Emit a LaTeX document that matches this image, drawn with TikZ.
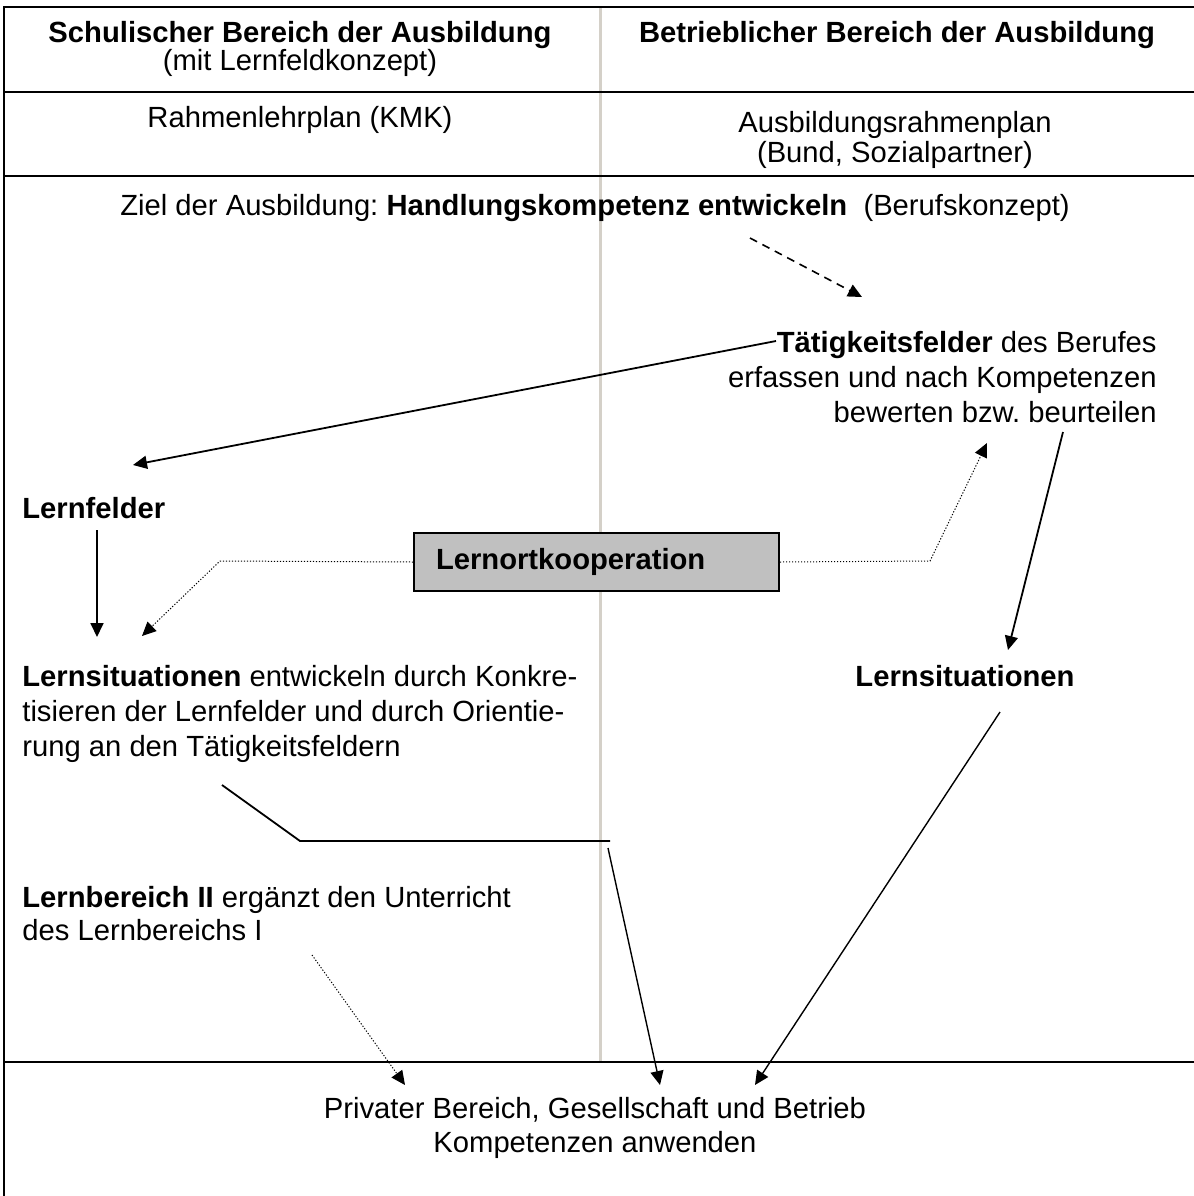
\documentclass[tikz,border=0pt]{standalone}
\usepackage{fontspec}
\setmainfont{Liberation Sans}
\usetikzlibrary{arrows.meta}
\definecolor{boxgray}{HTML}{C0C0C0}
\definecolor{divgray}{HTML}{D4D0C8}
\frenchspacing
\begin{document}
\begin{tikzpicture}[x=0.5pt,y=-0.5pt,
  frame/.style={line width=1.2pt},
  divider/.style={line width=1.5pt, draw=divgray},
  txt/.style={inner sep=0pt, font=\fontsize{14.6}{17.5}\selectfont},
  hdr/.style={inner sep=0pt, font=\fontsize{14.6}{14}\selectfont},
  tip/.style={-{Triangle[length=7pt,width=6.5pt]}},
  solidarrow/.style={tip, line width=0.9pt},
  thinarrow/.style={tip, line width=0.7pt},
  dottedarrow/.style={tip, line width=0.5pt, dash pattern=on 0.6pt off 0.9pt},
  dashedarrow/.style={tip, line width=0.8pt, dash pattern=on 4pt off 3pt},
  kooperation/.style={draw, line width=1pt, fill=boxgray, inner sep=0pt,
    minimum width=182.5pt, minimum height=29pt, text width=160.5pt,
    align=left, font=\fontsize{14.6}{17.5}\selectfont\bfseries}
]
\useasboundingbox (0,0) rectangle (1194,1196);

% table frame
\draw[divider] (600,7) -- (600,1062);
\draw[frame] (1194,7) -- (4,7) -- (4,1196);
\draw[frame] (4,92) -- (1194,92);
\draw[frame] (4,176) -- (1194,176);
\draw[frame] (4,1062) -- (1194,1062);

% header texts
\node[hdr, anchor=north, align=center] (hl) at (300,21)
  {\textbf{Schulischer Bereich der Ausbildung}\\(mit Lernfeldkonzept)};
\node[hdr, anchor=north, align=center] (hr) at (897,21)
  {\textbf{Betrieblicher Bereich der Ausbildung}};
\node[hdr, anchor=north, align=center] (rl) at (300,106)
  {Rahmenlehrplan (KMK)};
\node[hdr, anchor=north, align=center, font=\fontsize{14.6}{14.8}\selectfont] (rr) at (895,111)
  {Ausbildungsrahmenplan\\(Bund, Sozialpartner)};

% body texts
\node[txt, anchor=north] (ziel) at (595,194)
  {Ziel der Ausbildung: \textbf{Handlungskompetenz entwickeln}\ \ (Berufskonzept)};
\node[txt, anchor=north east, align=right] (tf) at (1157,331)
  {\textbf{Tätigkeitsfelder} des Berufes\\erfassen und nach Kompetenzen\\bewerten bzw. beurteilen};
\node[txt, anchor=north west] (lf) at (22,497) {\textbf{Lernfelder}};
\node[kooperation, anchor=north west] (lok) at (413,532) {Lernortkooperation};
\node[txt, anchor=north west, align=left] (ls) at (22,665)
  {\textbf{Lernsituationen} entwickeln durch Konkre-\\tisieren der Lernfelder und durch Orientie-\\rung an den Tätigkeitsfeldern};
\node[txt, anchor=north] (lsr) at (965,665) {\textbf{Lernsituationen}};
\node[txt, anchor=north west, align=left, font=\fontsize{14.6}{16.5}\selectfont] (lb) at (22,886)
  {\textbf{Lernbereich II} ergänzt den Unterricht\\des Lernbereichs I};
\node[txt, anchor=north, align=center, font=\fontsize{14.6}{17}\selectfont] (priv) at (595,1097)
  {Privater Bereich, Gesellschaft und Betrieb\\Kompetenzen anwenden};

% connector end points
\coordinate (dashS) at (750,238);
\coordinate (dashE) at (862,297);
\coordinate (tfS) at (776,341);
\coordinate (lfE) at (133,465);
\coordinate (lfS) at (97,530);
\coordinate (lsE) at (97,637);
\coordinate (kL) at (220,561);
\coordinate (kLE) at (142,636);
\coordinate (kR) at (930,561);
\coordinate (kRE) at (987,443);
\coordinate (tfB) at (1063,432);
\coordinate (lsrE) at (1008,650);
\coordinate (lsA) at (222,785);
\coordinate (lsB) at (300,841);
\coordinate (lsC) at (610,841);
\coordinate (pS) at (608,848);
\coordinate (pE) at (660,1085);
\coordinate (rS) at (1000,712);
\coordinate (rE) at (755,1085);
\coordinate (bS) at (312,955);
\coordinate (bE) at (405,1085);

% connectors
\draw[dashedarrow] (dashS) -- (dashE);
\draw[solidarrow] (tfS) -- (lfE);
\draw[solidarrow] (lfS) -- (lsE);
\draw[dottedarrow] (lok.west) -- (kL) -- (kLE);
\draw[dottedarrow] (lok.east) -- (kR) -- (kRE);
\draw[solidarrow] (tfB) -- (lsrE);
\draw[line width=0.9pt] (lsA) -- (lsB) -- (lsC);
\draw[thinarrow] (pS) -- (pE);
\draw[thinarrow] (rS) -- (rE);
\draw[dottedarrow] (bS) -- (bE);
\end{tikzpicture}
\end{document}
